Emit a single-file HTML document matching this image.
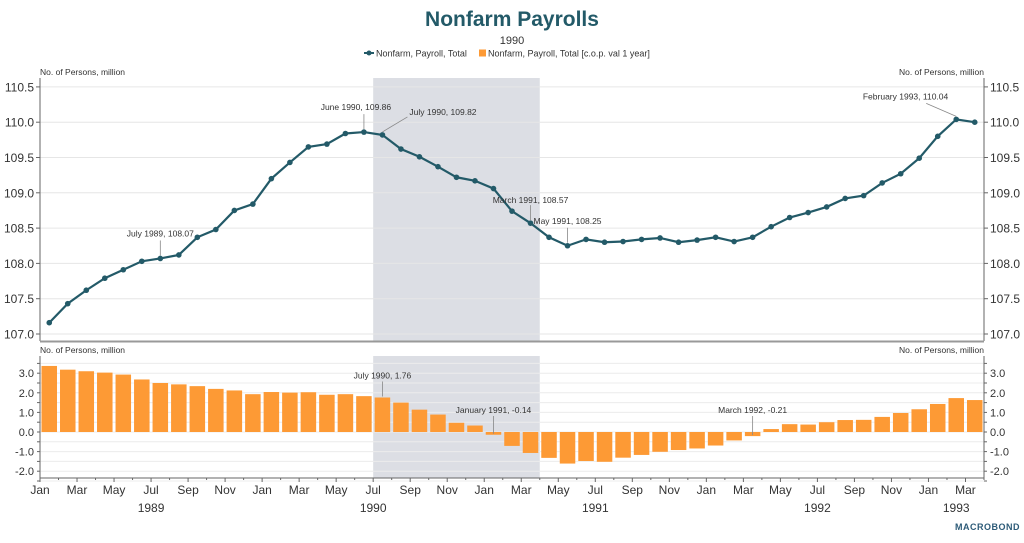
<!DOCTYPE html>
<html><head><meta charset="utf-8"><style>
body{margin:0;background:#fff;width:1024px;height:538px;overflow:hidden;font-family:"Liberation Sans",sans-serif}
svg text{font-family:"Liberation Sans",sans-serif}
</style></head><body>
<svg id="c" width="1024" height="538">
<text x="512" y="26" text-anchor="middle" font-size="21" font-weight="bold" fill="#235a68">Nonfarm Payrolls</text>
<text x="512" y="44" text-anchor="middle" font-size="11" fill="#333">1990</text>
<g>
<g><line x1="364" y1="53" x2="374" y2="53" stroke="#235a68" stroke-width="2"/><circle cx="369" cy="53" r="2.5" fill="#235a68"/><text x="376" y="56.5" font-size="9" fill="#333">Nonfarm, Payroll, Total</text></g>
<g><rect x="479" y="49.5" width="7" height="7" fill="#fd9a35"/><text x="488" y="56.5" font-size="9" fill="#333">Nonfarm, Payroll, Total [c.o.p. val 1 year]</text></g>
</g>
<g id="g"></g>
</svg>
<script>
const totalValues=[107.16,107.43,107.62,107.79,107.91,108.03,108.07,108.12,108.37,108.48,108.75,108.84,
109.20,109.43,109.65,109.69,109.84,109.86,109.82,109.62,109.51,109.37,109.22,109.17,
109.06,108.74,108.57,108.37,108.25,108.34,108.30,108.31,108.34,108.36,108.30,108.33,
108.37,108.31,108.37,108.52,108.65,108.72,108.80,108.92,108.96,109.14,109.27,109.49,
109.80,110.04,110.00];
const yoyValues=[3.37,3.18,3.10,3.03,2.93,2.68,2.50,2.43,2.34,2.20,2.12,1.93,
2.04,2.01,2.03,1.90,1.93,1.83,1.76,1.50,1.14,0.89,0.47,0.33,
-0.14,-0.71,-1.07,-1.32,-1.61,-1.48,-1.52,-1.31,-1.17,-1.01,-0.92,-0.84,
-0.69,-0.43,-0.21,0.15,0.40,0.38,0.50,0.61,0.62,0.77,0.97,1.16,
1.43,1.73,1.63];
const monthLabels=["Jan","Mar","May","Jul","Sep","Nov"];
const yearLabels=["1989","1990","1991","1992","1993"];
const topTicks=[107.0,107.5,108.0,108.5,109.0,109.5,110.0,110.5];
const bottomTicks=[-2.0,-1.0,0.0,1.0,2.0,3.0];
const recession=[18,27];
const topNotes=[[6,"July 1989, 108.07"],[17,"June 1990, 109.86"],[18,"July 1990, 109.82"],[26,"March 1991, 108.57"],[28,"May 1991, 108.25"],[49,"February 1993, 110.04"]];
const bottomNotes=[[18,"July 1990, 1.76"],[24,"January 1991, -0.14"],[38,"March 1992, -0.21"]];

const NS="http://www.w3.org/2000/svg",G=document.getElementById('g');
function el(t,a,p){const e=document.createElementNS(NS,t);for(const k in a)e.setAttribute(k,a[k]);(p||G).appendChild(e);return e;}
const X0=40,X1=984,MW=(X1-X0)/51;
const xs=i=>X0+i*MW, xc=i=>X0+(i+0.5)*MW;
const yT=v=>334-(v-107)*70.6;
const yB=v=>432-v*19.6;
const TT=78,TB=341,BT=356,BB=478;
let s=el('rect',{x:xs(recession[0]),y:TT,width:xs(recession[1])-xs(recession[0]),height:TB-TT,fill:"#dcdee4"});

s=el('rect',{x:xs(recession[0]),y:BT,width:xs(recession[1])-xs(recession[0]),height:BB-BT,fill:"#dcdee4"});

topTicks.forEach(v=>{const y=yT(v);
 let l=el('line',{x1:X0,x2:X1,y1:y,y2:y,stroke:"#e6e6e6"});
 [[34,'end'],[990,'start']].forEach(([x,a])=>{let t=el('text',{x:x,y:y+4.5,'text-anchor':a,'font-size':12,fill:"#333"});t.textContent=v.toFixed(1);});
 el('line',{x1:X0-4,x2:X0,y1:y,y2:y,stroke:"#666"});el('line',{x1:X1,x2:X1+4,y1:y,y2:y,stroke:"#666"});
});
el('line',{x1:X0,x2:X0,y1:TT,y2:TB,stroke:"#666"});el('line',{x1:X1,x2:X1,y1:TT,y2:TB,stroke:"#666"});
el('line',{x1:X0,x2:X1,y1:TB+0.5,y2:TB+0.5,stroke:"#999",'stroke-width':2});
[[40,'start'],[984,'end']].forEach(([x,a])=>{let t=el('text',{x:x,y:75,'text-anchor':a,'font-size':8.5,fill:"#333"});t.textContent="No. of Persons, million";});
for(let v=-2.5;v<=3.6;v+=0.5){const y=yB(v);let l=el('line',{x1:X0,x2:X1,y1:y,y2:y,stroke:"#ececec"});el('line',{x1:X0-3,x2:X0,y1:y,y2:y,stroke:"#666"});el('line',{x1:X1,x2:X1+3,y1:y,y2:y,stroke:"#666"});}
bottomTicks.forEach(v=>{const y=yB(v);
 [[34,'end'],[990,'start']].forEach(([x,a])=>{let t=el('text',{x:x,y:y+4,'text-anchor':a,'font-size':11,fill:"#333"});t.textContent=v.toFixed(1);});
});
[[40,'start'],[984,'end']].forEach(([x,a])=>{let t=el('text',{x:x,y:353,'text-anchor':a,'font-size':8.5,fill:"#333"});t.textContent="No. of Persons, million";});
yoyValues.forEach((v,i)=>{const y=yB(Math.max(v,0)),h=Math.abs(yB(v)-yB(0));
 let b=el('rect',{x:xs(i)+1.5,y:y,width:MW-3,height:Math.max(h,0.5),fill:"#fd9a35"});
 });
el('line',{x1:X0,x2:X0,y1:BT,y2:BB,stroke:"#666"});el('line',{x1:X1,x2:X1,y1:BT,y2:BB,stroke:"#666"});
el('line',{x1:X0,x2:X1,y1:BB,y2:BB,stroke:"#666"});
for(let i=0;i<=51;i++){el('line',{x1:xs(i),x2:xs(i),y1:BB,y2:BB+(i%2==0?4:2),stroke:"#666"});
 if(i%2==0&&i<51){let t=el('text',{x:xs(i),y:BB+16,'text-anchor':'middle','font-size':12,fill:"#333"});t.textContent=monthLabels[(i%12)/2];}}
yearLabels.forEach((y,k)=>{const a=k*12,b=Math.min(a+12,51);let t=el('text',{x:(xs(a)+xs(b))/2,y:BB+34,'text-anchor':'middle','font-size':12,fill:"#333"});t.textContent=y;});
let p=el('polyline',{points:totalValues.map((v,i)=>xc(i)+','+yT(v)).join(' '),fill:'none',stroke:"#235a68",'stroke-width':2.2});

totalValues.forEach((v,i)=>{let c=el('circle',{cx:xc(i),cy:yT(v),r:2.8,fill:"#235a68"});});
topNotes.forEach(([i,txt])=>{const x=xc(i),y=yT(totalValues[i]);let tx=x,ty=y-22,anchor='middle',lx=x,ly=y-18;
 if(i==17){tx=x-8;}
 if(i==18){tx=x+27;ty=y-20;anchor='start';lx=x+25;ly=y-18;}
 if(i==49){tx=x-8;ty=y-20;anchor='end';lx=x-30;ly=y-16;}
 if(i==26){ty=y-20;}
 el('line',{x1:x,y1:y-3,x2:lx,y2:ly,stroke:"#888",'stroke-width':0.8});
 let t=el('text',{x:tx,y:ty,'text-anchor':anchor,'font-size':8.5,fill:"#333"});t.textContent=txt;});
bottomNotes.forEach(([i,txt])=>{const x=xc(i),y=yB(Math.max(yoyValues[i],0));
 el('line',{x1:x,y1:yB(yoyValues[i])-1,x2:x,y2:y-16,stroke:"#888",'stroke-width':0.8});
 let t=el('text',{x:x,y:y-19,'text-anchor':'middle','font-size':8.5,fill:"#333"});t.textContent=txt;});
let m=el('text',{x:1020,y:530,'text-anchor':'end','font-size':9,'font-weight':'bold',fill:"#2d5b78",'letter-spacing':'0.5'});m.textContent="MACROBOND";
</script>
</body></html>
